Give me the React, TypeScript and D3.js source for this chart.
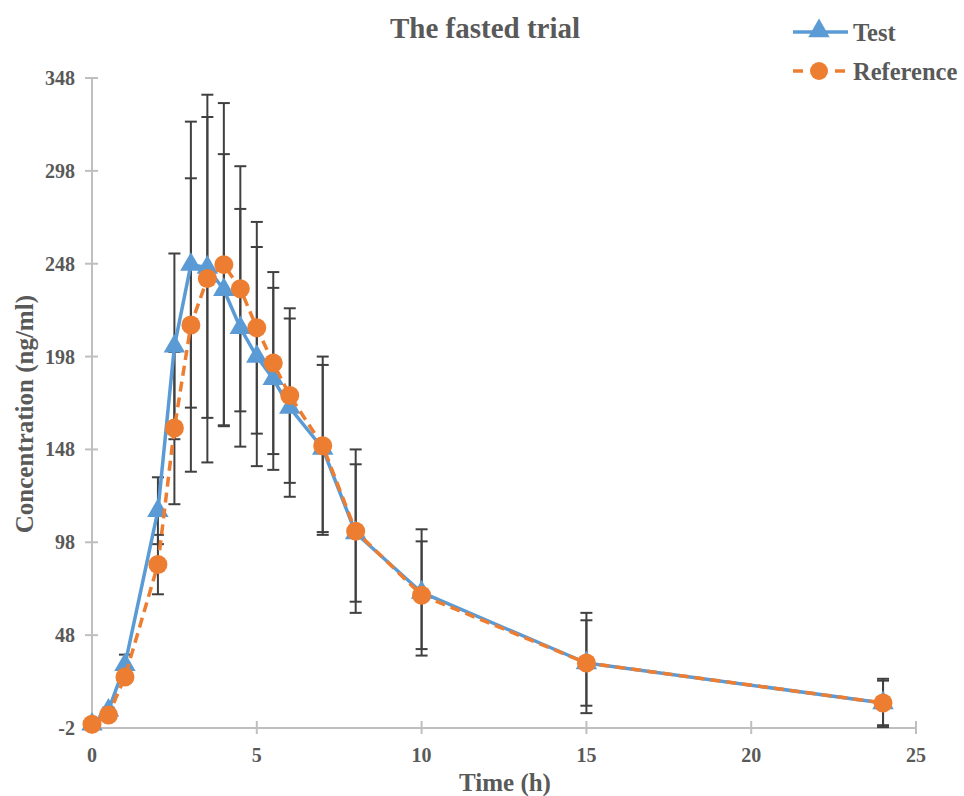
import React from "react";
import * as d3 from "d3";

const times = [0, 0.5, 1, 2, 2.5, 3, 3.5, 4, 4.5, 5, 5.5, 6, 7, 8, 10, 15, 24];
const testMean = [0, 7.5, 32, 115, 203.5, 247.5, 246, 234, 213.5, 198, 186, 170.5, 148.5, 103, 71, 33, 11.5];
const testSD = [0, 1.5, 5.5, 18, 50, 77, 81, 73, 64, 59, 49, 48, 45, 37, 34, 27, 13];
const refMean = [0, 5, 25.5, 86, 159.5, 215, 240, 247.5, 234.5, 213.5, 194.5, 177, 150, 104, 69.5, 33, 11.5];
const refSD = [0, 0, 3, 16, 41, 79, 99, 87, 66, 57, 49, 47, 48, 44, 29, 23, 12];
const xTicks = [0, 5, 10, 15, 20, 25];
const yTicks = [-2, 48, 98, 148, 198, 248, 298, 348];

const W = 964;
const H = 796;
const BLUE = "#5b9bd5";
const ORANGE = "#ed7d31";
const GRAY_TXT = "#595959";
const AXIS = "#bfbfbf";
const ERR = "#404040";
const FONT = "'Liberation Serif', 'Times New Roman', serif";

export default function App() {
  const x = d3.scaleLinear().domain([0, 25]).range([92, 916]);
  const y = d3.scaleLinear().domain([-2, 348]).range([728, 78]);

  const test = times.map((t, i) => ({ t, m: testMean[i], sd: testSD[i] }));
  const ref = times.map((t, i) => ({ t, m: refMean[i], sd: refSD[i] }));

  const line = d3
    .line<{ t: number; m: number }>()
    .x((d) => x(d.t))
    .y((d) => y(d.m));

  const tri = d3.symbol().type(d3.symbolTriangle).size(200)();
  const cap = 6;

  const errBars = (data: { t: number; m: number; sd: number }[], key: string) =>
    data.map((d, i) => {
      if (d.sd <= 0) return null;
      const cx = x(d.t);
      const y1 = y(d.m + d.sd);
      const y2 = y(d.m - d.sd);
      return (
        <g key={key + i} stroke={ERR} strokeWidth={2}>
          <line x1={cx} x2={cx} y1={y1} y2={y2} />
          <line x1={cx - cap} x2={cx + cap} y1={y1} y2={y1} />
          <line x1={cx - cap} x2={cx + cap} y1={y2} y2={y2} />
        </g>
      );
    });

  return (
    <svg
      width={W}
      height={H}
      style={{ position: "absolute", left: 0, top: 0, background: "#fff" }}
      fontFamily={FONT}
    >
      <rect width={W} height={H} fill="#fff" />
      {/* title */}
      <text x={485} y={38} textAnchor="middle" fontSize={29} fontWeight="bold" fill={GRAY_TXT}>
        The fasted trial
      </text>

      {/* axes */}
      <line x1={x(0)} x2={x(0)} y1={y(348)} y2={y(-2)} stroke={AXIS} strokeWidth={2} />
      <line x1={x(0)} x2={x(25)} y1={y(-2)} y2={y(-2)} stroke={AXIS} strokeWidth={2} />
      {yTicks.map((v) => (
        <g key={"yt" + v}>
          <line x1={x(0) - 7} x2={x(0) + 6} y1={y(v)} y2={y(v)} stroke={AXIS} strokeWidth={2} />
          <text
            x={75}
            y={y(v)}
            dy="0.35em"
            textAnchor="end"
            fontSize={20}
            fontWeight="bold"
            fill={GRAY_TXT}
          >
            {v}
          </text>
        </g>
      ))}
      {xTicks.map((v) => (
        <g key={"xt" + v}>
          <line x1={x(v)} x2={x(v)} y1={y(-2) - 7} y2={y(-2) + 6} stroke={AXIS} strokeWidth={2} />
          <text
            x={x(v)}
            y={762}
            textAnchor="middle"
            fontSize={20}
            fontWeight="bold"
            fill={GRAY_TXT}
          >
            {v}
          </text>
        </g>
      ))}
      <text x={505} y={791} textAnchor="middle" fontSize={25} fontWeight="bold" fill={GRAY_TXT}>
        Time (h)
      </text>
      <text
        transform={`translate(33, ${y(167)}) rotate(-90)`}
        textAnchor="middle"
        fontSize={25}
        fontWeight="bold"
        fill={GRAY_TXT}
      >
        Concentration (ng/ml)
      </text>

      {/* error bars */}
      {errBars(test, "te")}
      {errBars(ref, "re")}

      {/* test series */}
      <path d={line(test) || ""} fill="none" stroke={BLUE} strokeWidth={3.5} strokeLinejoin="round" />
      {test.map((d, i) => (
        <path key={"tm" + i} d={tri || ""} transform={`translate(${x(d.t)},${y(d.m)})`} fill={BLUE} />
      ))}

      {/* reference series */}
      <path
        d={line(ref) || ""}
        fill="none"
        stroke={ORANGE}
        strokeWidth={3.5}
        strokeDasharray="10 6"
      />
      {ref.map((d, i) => (
        <circle key={"rm" + i} cx={x(d.t)} cy={y(d.m)} r={9.5} fill={ORANGE} />
      ))}

      {/* legend */}
      <line x1={793} x2={848} y1={32} y2={32} stroke={BLUE} strokeWidth={3.5} />
      <path d={tri || ""} transform="translate(819,31)" fill={BLUE} />
      <text x={853} y={32} dy="0.35em" fontSize={24.5} fontWeight="bold" fill={GRAY_TXT}>
        Test
      </text>
      <line x1={793} x2={848} y1={71} y2={71} stroke={ORANGE} strokeWidth={3.5} strokeDasharray="10 11" />
      <circle cx={819} cy={71} r={9} fill={ORANGE} />
      <text x={853} y={71} dy="0.35em" fontSize={24.5} fontWeight="bold" fill={GRAY_TXT}>
        Reference
      </text>
    </svg>
  );
}
